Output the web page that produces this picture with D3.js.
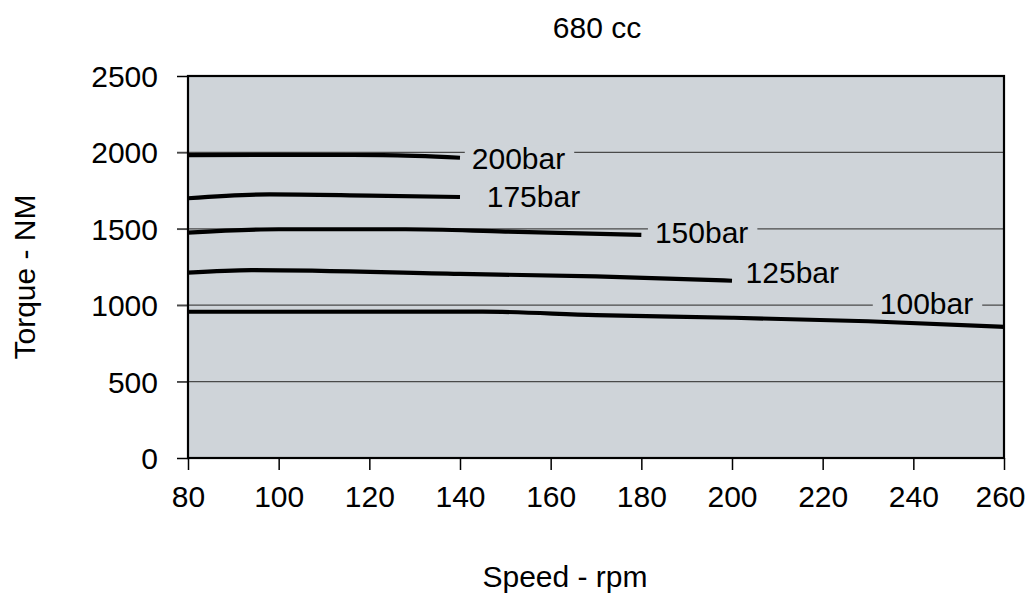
<!DOCTYPE html>
<meta charset="utf-8" />
<style>
  body { margin: 0; background: #fff; }
  text { font-family: "Liberation Sans", Arial, sans-serif; font-size: 30px; fill: #000; }
  .grid line { stroke: #4a4a4a; stroke-width: 1.3; }
  .series { fill: none; stroke: #000; stroke-width: 4.2; stroke-linejoin: round; }
</style>
<svg width="1028" height="598"></svg>
<script src="https://d3js.org/d3.v7.min.js"></script>
<script>
  // values (rpm, torque NM)
  const rpm200 = [80, 100, 123, 140];
  const nm200 = [1982, 1984, 1982, 1965];
  const rpm175 = [80, 98, 120, 140];
  const nm175 = [1700, 1725, 1717, 1708];
  const rpm150 = [80, 100, 128, 150, 180];
  const nm150 = [1475, 1497, 1497, 1482, 1460];
  const rpm125 = [80, 94, 140, 170, 200];
  const nm125 = [1213, 1230, 1205, 1188, 1160];
  const rpm100 = [80, 145, 170, 200, 230, 260];
  const nm100 = [957, 958, 935, 918, 895, 858];

  const seriesNames = ['200bar', '175bar', '150bar', '125bar', '100bar'];
  const labelRpm = [142.6, 145.9, 183, 203, 232.6];
  const labelNm = [1963, 1710, 1476, 1211, 1014];

  const xTicks = [80, 100, 120, 140, 160, 180, 200, 220, 240, 260];
  const yTicks = [0, 500, 1000, 1500, 2000, 2500];

  const svg = d3.select('svg');
  const plotLeft = 188, plotTop = 76, plotRight = 1004, plotBottom = 458;

  const x = d3.scaleLinear().domain([80, 260]).range([plotLeft, plotRight]);
  const y = d3.scaleLinear().domain([0, 2500]).range([plotBottom, plotTop]);

  svg.append('rect')
    .attr('x', plotLeft).attr('y', plotTop)
    .attr('width', plotRight - plotLeft).attr('height', plotBottom - plotTop)
    .attr('fill', '#cfd4d9');

  // gridlines, extended left as the y ticks
  svg.append('g')
    .attr('class', 'grid')
    .selectAll('line')
    .data(yTicks.filter(d => d > 0 && d < 2500))
    .join('line')
    .attr('x1', plotLeft - 11).attr('x2', plotRight)
    .attr('y1', d => y(d)).attr('y2', d => y(d));

  // axes
  svg.append('g')
    .attr('transform', `translate(${plotLeft},0)`)
    .call(d3.axisLeft(y).tickValues(yTicks).tickFormat(d3.format('d')).tickSize(11).tickPadding(19).tickSizeOuter(0))
    .call(g => g.select('.domain').remove())
    .call(g => g.selectAll('.tick line').attr('stroke', d => (d === 0 || d === 2500) ? '#000' : '#4a4a4a').attr('stroke-width', 1.5))
    .call(g => g.selectAll('text').attr('dy', '0.35em'));

  svg.append('g')
    .attr('transform', `translate(0,${plotBottom})`)
    .call(d3.axisBottom(x).tickValues(xTicks).tickSize(12).tickPadding(16).tickSizeOuter(0))
    .call(g => g.select('.domain').remove())
    .call(g => g.selectAll('.tick line').attr('stroke', '#000').attr('stroke-width', 1.5))
    .call(g => g.selectAll('text').attr('dy', '0.71em').attr('dx', d => d === 260 ? -4 : 0));

  // series labels with background boxes covering gridlines
  const labels = svg.append('g');
  seriesNames.forEach((name, i) => {
    const g = labels.append('g');
    const t = g.append('text')
      .attr('x', x(labelRpm[i]))
      .attr('y', y(labelNm[i]))
      .attr('dy', '0.35em')
      .text(name);
    const b = t.node().getBBox();
    g.insert('rect', 'text')
      .attr('x', b.x - 7).attr('y', b.y + 4)
      .attr('width', b.width + 16).attr('height', b.height - 8)
      .attr('fill', '#cfd4d9');
  });

  const line = d3.line()
    .x(d => x(d[0]))
    .y(d => y(d[1]))
    .curve(d3.curveMonotoneX);

  const allSeries = [
    d3.zip(rpm200, nm200),
    d3.zip(rpm175, nm175),
    d3.zip(rpm150, nm150),
    d3.zip(rpm125, nm125),
    d3.zip(rpm100, nm100)
  ];

  svg.append('g')
    .selectAll('path')
    .data(allSeries)
    .join('path')
    .attr('class', 'series')
    .attr('d', line);

  // plot border
  svg.append('rect')
    .attr('x', plotLeft).attr('y', plotTop)
    .attr('width', plotRight - plotLeft).attr('height', plotBottom - plotTop)
    .attr('fill', 'none')
    .attr('stroke', '#000')
    .attr('stroke-width', 2.2);

  svg.append('text')
    .attr('x', 597).attr('y', 38)
    .attr('text-anchor', 'middle')
    .text('680 cc');

  svg.append('text')
    .attr('x', 565).attr('y', 587)
    .attr('text-anchor', 'middle')
    .text('Speed - rpm');

  svg.append('text')
    .attr('transform', 'translate(34.5,277) rotate(-90)')
    .attr('text-anchor', 'middle')
    .text('Torque - NM');
</script>
